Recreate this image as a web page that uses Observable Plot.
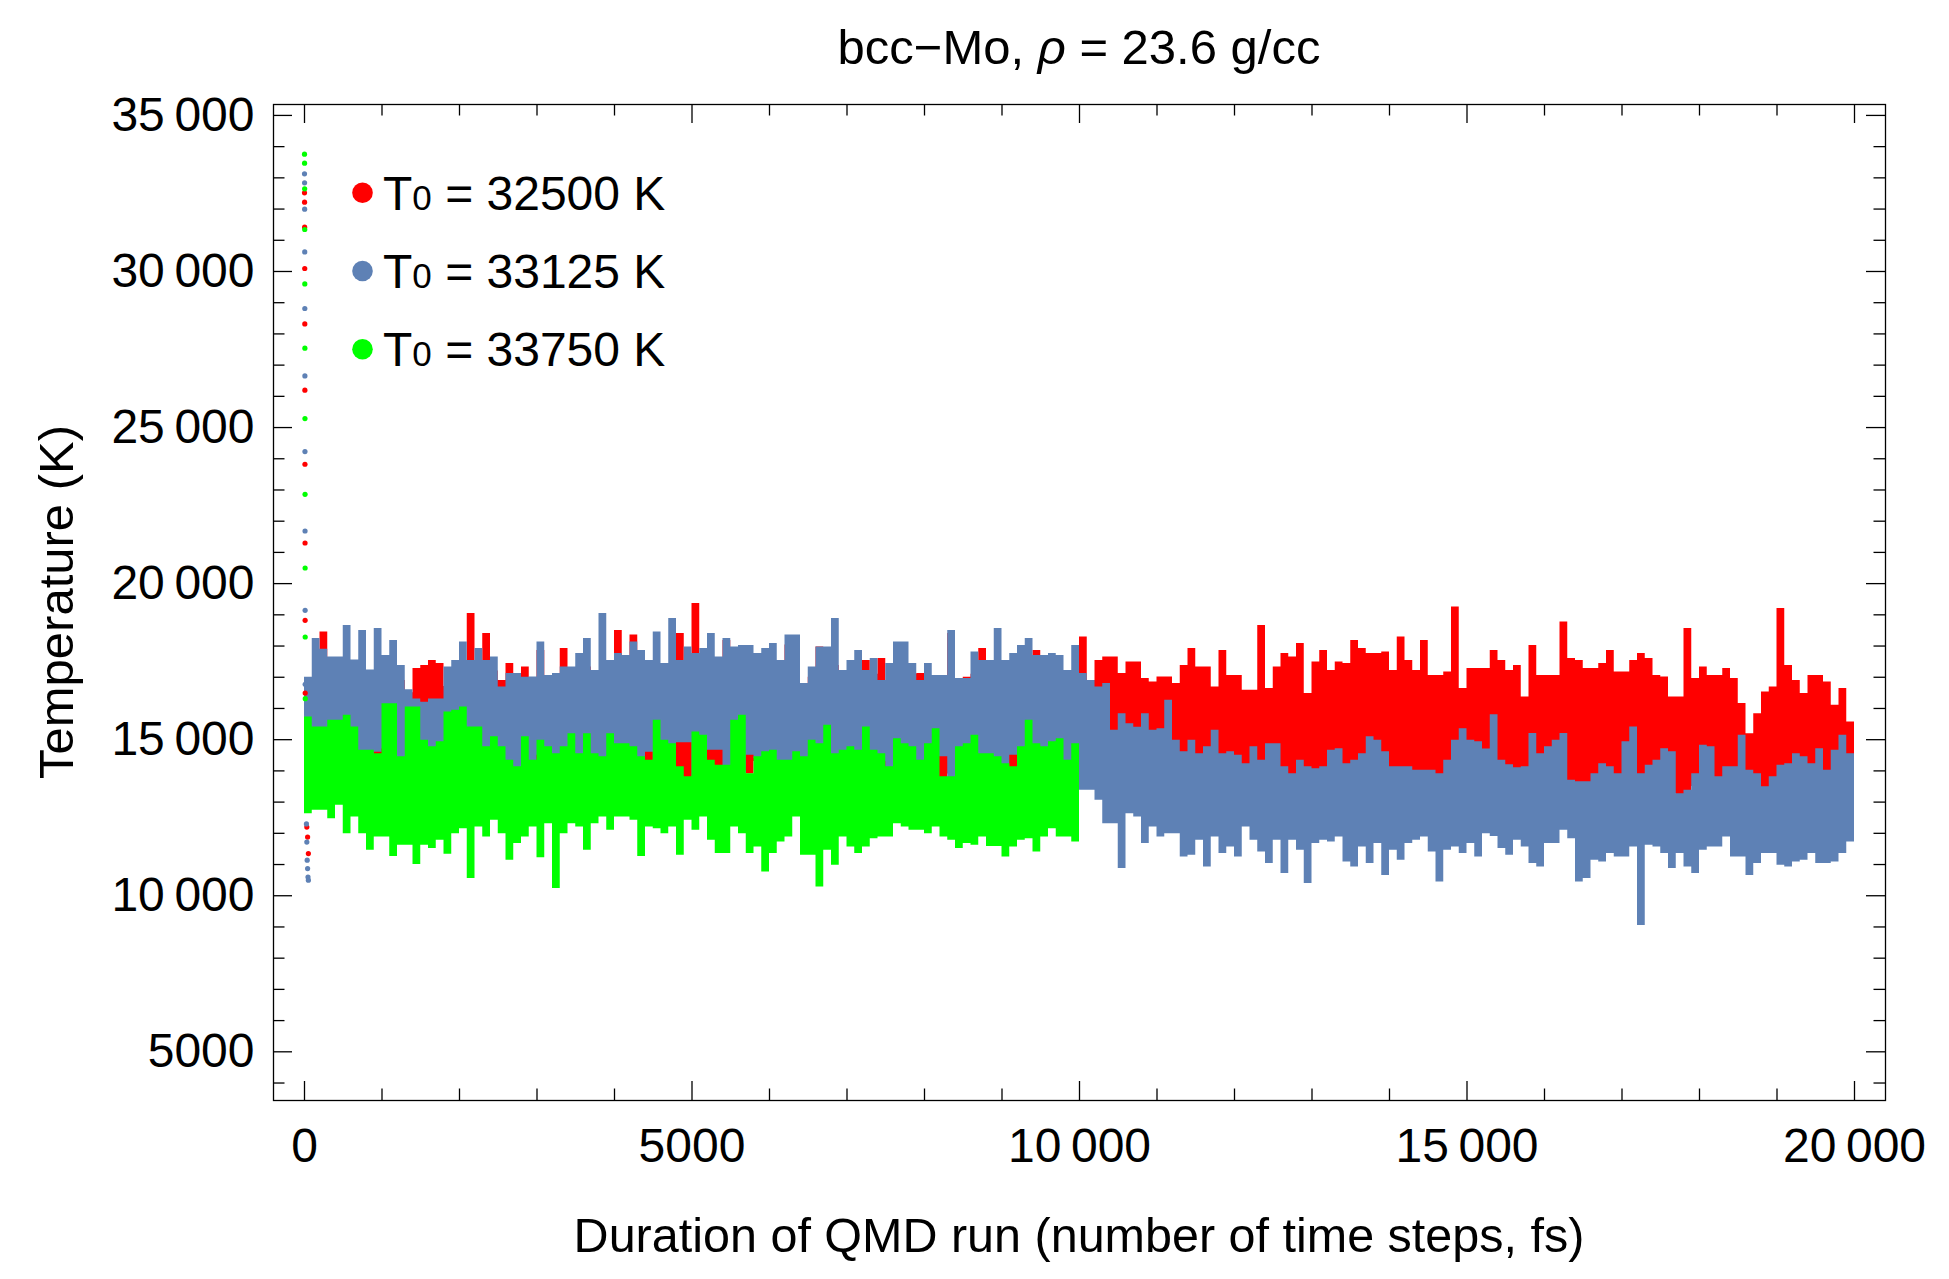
<!DOCTYPE html>
<html>
<head>
<meta charset="utf-8">
<script src="https://cdn.jsdelivr.net/npm/d3@7"></script>
<script src="https://cdn.jsdelivr.net/npm/@observablehq/plot@0.6"></script>
<style>
  html, body { margin: 0; padding: 0; background: #ffffff; }
  #chart { position: relative; width: 1949px; height: 1279px; }
</style>
</head>
<body>
<div id="chart"></div>
<script>
// ---------------- DATA ----------------
// Band of each run, read per 100-time-step slot: highest and lowest temperature (K)
const slotWidth = 100;

const redHigh = [
16600,16900,18450,17100,17000,17200,16900,17100,16800,17000,
16900,17000,16900,16500,17280,17380,17540,17440,16700,16900,
17300,19040,17000,18400,17200,16900,17440,16800,17330,16700,
17860,16800,16900,17920,16900,17000,17330,16900,17000,17200,
18500,17000,18350,17100,17540,17000,17000,17100,18400,17200,
19360,17650,17300,17100,18180,17100,17600,17760,17760,17000,
17100,17000,18030,17500,16700,17000,17970,17000,17380,17000,
16900,17100,17540,17100,17600,16900,17000,17100,17100,17120,
16900,16800,17000,18400,16900,17000,17100,17920,17000,17100,
17000,17100,17000,17000,17860,17100,17000,17100,16900,17100,
18290,16900,17540,17650,17650,17120,17490,17490,16960,16850,
17010,17010,16800,17380,17920,17330,17330,16690,17860,17060,
17060,16580,16580,18660,16640,17330,17760,17650,18080,16480,
17490,17860,17220,17490,17440,18180,17920,17760,17760,17810,
17220,18290,17540,17220,18180,17060,17060,17170,19250,16640,
17280,17280,17280,17860,17540,17220,17380,16370,18020,17060,
17060,17060,18770,17600,17540,17280,17280,17440,17860,17170,
17170,17540,17760,17600,17060,17010,16370,16370,18560,16960,
17330,17060,17060,17280,16960,16160,15190,15830,16530,16690,
19200,17380,16900,16480,17060,17060,16850,16100,16640,15570
];
const redLow = [
14000,13900,14100,13800,14000,13900,14100,13800,13700,14300,
14400,14200,14300,14000,14600,14800,14500,14200,13900,14000,
14100,13800,14000,13900,14100,14000,13800,13700,13900,14000,
13900,13800,14000,14100,13900,13800,14000,13900,14000,14100,
13900,13800,14000,13900,14000,14100,14000,13900,13590,13590,
13800,13900,13910,13910,14000,14100,14000,13900,14300,14000,
13900,14000,14100,14000,13900,14000,14100,13900,14000,13900,
13800,14000,13900,14000,14100,14000,13900,14000,13800,13900,
14000,13750,13750,13900,14000,13900,14000,14100,14000,13900,
14000,13900,13900,14000,14100,14000,13900,14000,13900,14000,
13800,13700,13600,13500,13400,13600,13500,13600,13500,13400,
13600,13500,13400,13500,13600,13500,13400,13500,13600,13500,
13400,13500,13400,13380,13500,13600,13500,13400,13500,13400,
13600,13500,13600,13500,13400,13500,13600,13500,13590,13590,
13500,13400,13500,13600,13500,13700,13700,13500,13400,13500,
13600,13500,13400,13500,13600,13500,13400,13500,13600,13500,
13400,13500,13600,13300,13300,13300,13500,13600,13500,13400,
13500,13600,13500,13400,13500,13600,13270,13200,13200,13500,
13600,13500,13400,13500,12950,12950,13500,13400,13300,13400,
13500,13400,13300,13060,13400,13300,13200,12520,13000,12630
];

const blueHigh = [
17000,18240,17900,17650,17650,18660,17550,18500,17230,18560,
17700,18180,17380,16600,16300,16200,16300,16300,17330,17540,
18130,17540,17920,17540,17650,16690,17120,17120,17000,17010,
18130,17060,17120,17330,17330,17760,18240,17220,19040,17540,
17760,17700,18130,17860,17540,18450,17440,18880,17540,17970,
17760,17920,18400,17650,18240,17970,18020,18020,17760,17920,
18080,17540,18350,18350,16800,17330,17970,17970,18880,17220,
17540,17860,17220,17600,16900,17440,18130,18130,17440,16900,
17440,17060,17060,18500,16960,16960,17810,17540,17540,18560,
17540,17760,18020,18240,17700,17700,17760,17700,17220,18020,
17120,16900,16690,16800,15300,15830,15510,15400,15830,15300,
15350,16260,14980,14610,14980,14550,14770,15300,14550,14610,
14500,14230,14770,14340,14870,14870,14130,13910,14340,14130,
14070,14130,14660,14710,14230,14340,14550,15090,14980,14610,
14130,14130,14130,14020,14020,14020,13910,14340,14980,15350,
14980,14930,14700,15800,14340,14200,14100,14130,15200,14550,
14770,14980,15200,13700,13650,13650,13910,14230,14130,13910,
14930,15410,13910,14180,14340,14710,14610,13270,13380,13910,
14820,14770,13810,14130,14130,15140,14020,13910,13490,13810,
14180,14230,14550,14450,14230,14710,14020,14660,15140,14550
];
const blueLow = [
13500,13400,13600,13300,13500,13400,13600,13500,13300,14600,
14700,14500,13380,13400,13600,13500,13400,13500,13300,13400,
13500,13300,13400,13600,13500,13400,13300,13270,13400,13500,
14500,14600,13500,13400,13300,13500,13400,13300,13500,13400,
13500,13300,13400,13500,14600,13500,13400,13300,14900,14900,
13400,13500,14660,14660,13500,13400,13300,14500,14400,13500,
13400,13300,13500,13400,13500,13300,13400,13500,13400,13300,
13500,13400,13300,13500,14300,13400,13300,13500,13400,13300,
13500,14450,14450,13400,13300,13500,13400,13300,13500,13400,
13300,14500,14500,13400,13300,13500,13400,13300,13400,13300,
13380,13380,13060,12310,12310,10870,12630,12520,11670,12200,
11880,11990,11990,11240,11300,11780,10920,11880,11350,11560,
11240,12200,11780,11400,11030,11780,10710,11780,11460,10390,
11670,11780,11720,11880,11080,10920,11560,11030,11670,10650,
11460,11140,11670,11780,11880,11400,10440,11460,11560,11350,
11670,11240,11990,11900,11510,11300,11780,11560,11030,10920,
11670,11670,12100,11830,10440,10550,11140,11080,11350,11240,
11240,11560,9050,11620,11560,11350,10870,11350,10920,10710,
11460,11560,11560,11880,11240,11240,10650,11030,11350,11350,
10980,10920,11080,11140,11350,11030,11030,11080,11350,11720
];

const greenHigh = [
15730,15410,15410,15620,15620,15780,15410,14660,14660,14550,
16150,16150,14450,16050,16050,14980,14770,14930,15890,15940,
16050,15410,15410,14770,15090,14770,14340,14130,15090,14340,
14980,14770,14550,14770,15190,14550,15190,14550,14450,15190,
14870,14870,14770,14450,14340,15620,14980,14870,14130,13810,
15250,15140,14340,14180,14180,15620,15780,13910,14450,14610,
14660,14340,14340,14610,14450,14980,14870,15460,14550,14660,
14770,14660,15410,14660,14550,14130,15030,14870,14770,14340,
14870,15350,13810,13810,14770,14870,15140,14550,14550,14450,
14230,14130,14770,15620,14870,14770,14930,15030,14340,14870
];
const greenLow = [
12630,12740,12740,12470,12900,11990,12520,11990,11460,11880,
11880,11260,11620,11620,11000,11620,11510,11780,11330,11990,
12150,10550,12200,11880,12420,11990,11140,11670,11880,12200,
11220,12310,10230,11990,12310,12200,11460,12310,12520,12100,
12520,12520,12420,11260,12200,12150,11990,12200,11300,12420,
12100,12520,11780,11350,11350,12200,11990,11350,11560,10760,
11350,11720,11880,12520,11300,11300,10280,11460,10980,11880,
11560,11350,11560,11830,11880,11880,12310,12200,12100,12100,
11990,12200,11880,11780,11510,11670,11620,11880,11580,11580,
11240,11560,11780,11830,11400,11880,12150,11880,11880,11720
];

// First time steps: fast drop from the initial temperature, then the overshoot
const redStartSteps  = [0,1,2,3,4,5,6,7,8,9,30,40,50];
const redStart       = [32520,32221,31420,30096,28321,26196,23824,21301,18824,16494,12200,11880,11350];
const blueStartSteps = [0,1,2,3,4,5,6,7,8,9,25,30,35,40,45,50];
const blueStart      = [33128,32840,31997,30628,28814,26654,24230,21686,19144,16773,12300,11720,11140,10870,10600,10500];
const greenStartSteps= [0,1,2,3,4,5,6,7,8,9,10];
const greenStart     = [33760,33471,32648,31346,29603,27542,25288,22862,20500,18290,16314];

const seriesNames  = ["32500", "33125", "33750"];
const seriesColors = ["#ff0000", "#5e81b5", "#00ff00"];

const xMajorTicks = [0, 5000, 10000, 15000, 20000];
const yMajorTicks = [5000, 10000, 15000, 20000, 25000, 30000, 35000];
const titleParts = ["bcc\u2212Mo, ", "\u03c1", " = 23.6 g/cc"];
const xLabel = "Duration of QMD run (number of time steps, fs)";
const yLabel = "Temperature (K)";

// ---------------- LAYOUT ----------------
const W = 1949, H = 1279;
const mL = 273, mR = 64, mT = 104, mB = 179;
const xDomain = [-400, 20400];
const yDomain = [3440, 35350];
const kx = (xDomain[1] - xDomain[0]) / (W - mL - mR);
const ky = (yDomain[1] - yDomain[0]) / (H - mT - mB);
const font = "'Liberation Sans', Arial, Helvetica, sans-serif";

function bandRows(hi, lo) {
  const rows = hi.map((h, i) => ({x: i * slotWidth, hi: h, lo: lo[i]}));
  rows.push({x: hi.length * slotWidth, hi: hi[hi.length - 1], lo: lo[lo.length - 1]});
  return rows;
}
function startRows(steps, vals) { return steps.map((s, i) => ({x: s, y: vals[i]})); }

const xMinor = d3.range(1000, 20000, 1000).filter(d => d % 5000 !== 0);
const yMinor = d3.range(4000, 35001, 1000).filter(d => d % 5000 !== 0);
const fmt = d => d >= 10000 ? String(d).slice(0, -3) + "\u2009" + String(d).slice(-3) : String(d);

const tickStyle = {stroke: "black", strokeWidth: 1.3};
function xTicks(vals, len) {
  return [
    Plot.ruleX(vals, {x: d => d, y1: () => yDomain[0], y2: () => yDomain[0] + len * ky, ...tickStyle}),
    Plot.ruleX(vals, {x: d => d, y1: () => yDomain[1] - len * ky, y2: () => yDomain[1], ...tickStyle})
  ];
}
function yTicks(vals, len) {
  return [
    Plot.ruleY(vals, {y: d => d, x1: () => xDomain[0], x2: () => xDomain[0] + len * kx, ...tickStyle}),
    Plot.ruleY(vals, {y: d => d, x1: () => xDomain[1] - len * kx, x2: () => xDomain[1], ...tickStyle})
  ];
}

const chart = Plot.plot({
  width: W, height: H,
  marginLeft: mL, marginRight: mR, marginTop: mT, marginBottom: mB,
  x: {domain: xDomain},
  y: {domain: yDomain},
  style: {fontFamily: font, fontSize: "48px", background: "white", color: "black", overflow: "visible"},
  marks: [
    Plot.area(bandRows(redHigh, redLow), {x1: "x", y1: "lo", y2: "hi", curve: "step-after", fill: seriesColors[0]}),
    Plot.area(bandRows(blueHigh, blueLow), {x1: "x", y1: "lo", y2: "hi", curve: "step-after", fill: seriesColors[1]}),
    Plot.area(bandRows(greenHigh, greenLow), {x1: "x", y1: "lo", y2: "hi", curve: "step-after", fill: seriesColors[2]}),
    Plot.dot(startRows(redStartSteps, redStart), {x: "x", y: "y", r: 2.6, fill: seriesColors[0]}),
    Plot.dot(startRows(blueStartSteps, blueStart), {x: "x", y: "y", r: 2.6, fill: seriesColors[1]}),
    Plot.dot(startRows(greenStartSteps, greenStart), {x: "x", y: "y", r: 2.6, fill: seriesColors[2]}),
    Plot.frame({stroke: "black", strokeWidth: 1.3}),
    ...xTicks(xMajorTicks, 19), ...xTicks(xMinor, 11.5),
    ...yTicks(yMajorTicks, 19), ...yTicks(yMinor, 11.5),
    Plot.axisX({ticks: xMajorTicks, tickSize: 0, tickPadding: 27, tickFormat: fmt, label: null, fontSize: 48}),
    Plot.axisY({ticks: yMajorTicks, tickSize: 0, tickPadding: 19, tickFormat: fmt, label: null, fontSize: 48})
  ]
});
document.getElementById("chart").appendChild(chart);

// Title (with italic rho), axis labels and legend
const svg = d3.select(chart);
const title = svg.append("text")
  .attr("x", (mL + W - mR) / 2).attr("y", 64)
  .attr("text-anchor", "middle")
  .style("font-family", font).style("font-size", "49px").attr("fill", "black");
title.append("tspan").text(titleParts[0]);
title.append("tspan").style("font-style", "italic").text(titleParts[1]);
title.append("tspan").text(titleParts[2]);

svg.append("text")
  .attr("x", (mL + W - mR) / 2).attr("y", 1252)
  .attr("text-anchor", "middle")
  .style("font-family", font).style("font-size", "48.5px").attr("fill", "black")
  .text(xLabel);

svg.append("text")
  .attr("transform", `translate(73, ${(mT + H - mB) / 2}) rotate(-90)`)
  .attr("text-anchor", "middle")
  .style("font-family", font).style("font-size", "49px").attr("fill", "black")
  .text(yLabel);

const legend = svg.append("g").style("font-family", font).attr("text-anchor", "start");
seriesNames.forEach((name, i) => {
  const cy = 192.7 + 78.3 * i;
  legend.append("circle").attr("cx", 362.5).attr("cy", cy).attr("r", 10.3).attr("fill", seriesColors[i]);
  const t = legend.append("text").attr("x", 383).attr("y", cy + 17)
    .attr("text-anchor", "start").style("font-size", "48px").attr("fill", "black");
  t.append("tspan").text("T");
  t.append("tspan").style("font-size", "35px").text("0");
  t.append("tspan").text(" = " + name + " K");
});
</script>
</body>
</html>
